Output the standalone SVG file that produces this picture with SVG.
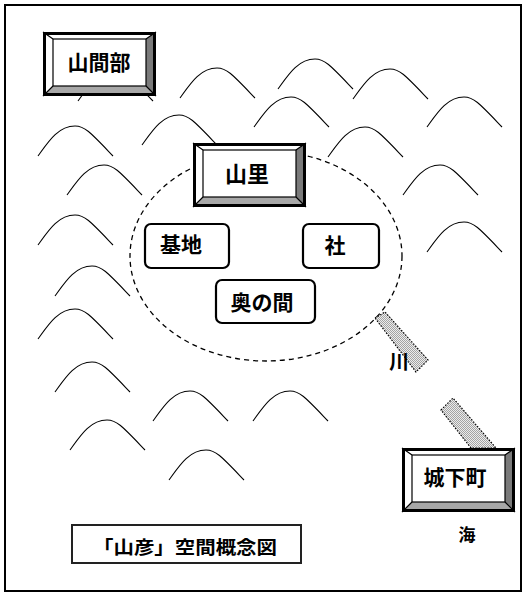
<svg xmlns="http://www.w3.org/2000/svg" xmlns:xlink="http://www.w3.org/1999/xlink" width="526" height="597" viewBox="0 0 526 597">
  <style>
    .jp { font-family: "Noto Sans CJK JP", "Noto Sans CJK SC", sans-serif; font-weight: bold; fill: #000; text-anchor: middle; dominant-baseline: central; }
    .mtn { fill: none; stroke: #000; stroke-width: 1.1; }
    .soft { fill: #fff; stroke: #000; stroke-width: 2.2; }
    .river { fill: url(#stipple); stroke: #000; stroke-width: 1.2; stroke-dasharray: 1.5 1.5; }
  </style>
  <defs>
    <!-- one mountain: left foot at origin -->
    <path id="mountain" d="M0,0 C10,-14 20,-30 37,-30 C47,-30 53,-23 75,0"/>
    <!-- bevelled frame for the place boxes -->
    <g id="bevel">
      <rect x="0" y="0" width="113" height="64" fill="#fff"/>
      <polygon points="113,0 113,64 103,54 103,7" fill="#7a7a7a"/>
      <polygon points="0,64 113,64 103,54 10,54" fill="#a8a8a8"/>
      <rect x="10" y="7" width="93" height="47" fill="#fff" stroke="#000" stroke-width="1.2"/>
      <path d="M0,0 L10,7 M113,0 L103,7 M0,64 L10,54 M113,64 L103,54" stroke="#000" stroke-width="1.2"/>
      <rect x="1.5" y="1.5" width="110" height="61" fill="none" stroke="#000" stroke-width="3"/>
    </g>
    <pattern id="stipple" width="2" height="2" patternUnits="userSpaceOnUse">
      <rect width="2" height="2" fill="#ececec"/>
      <rect width="1" height="1" fill="#a4a4a4"/>
      <rect x="1" y="1" width="1" height="1" fill="#a4a4a4"/>
    </pattern>
  </defs>

  <rect width="526" height="597" fill="#fff"/>
  <rect x="5" y="5" width="516" height="586" fill="none" stroke="#000" stroke-width="2"/>

  <!-- mountains -->
  <g id="mountains" class="mtn">
    <use xlink:href="#mountain" x="78" y="101"/>
    <use xlink:href="#mountain" x="180" y="98"/>
    <use xlink:href="#mountain" x="278" y="89"/>
    <use xlink:href="#mountain" x="353" y="99"/>
    <use xlink:href="#mountain" x="254" y="127"/>
    <use xlink:href="#mountain" x="427" y="127"/>
    <use xlink:href="#mountain" x="328" y="157"/>
    <use xlink:href="#mountain" x="403" y="195"/>
    <use xlink:href="#mountain" x="427" y="252"/>
    <use xlink:href="#mountain" x="38" y="156"/>
    <use xlink:href="#mountain" x="142" y="145"/>
    <use xlink:href="#mountain" x="67" y="195"/>
    <use xlink:href="#mountain" x="38" y="245"/>
    <use xlink:href="#mountain" x="55" y="296"/>
    <use xlink:href="#mountain" x="38" y="339"/>
    <use xlink:href="#mountain" x="55" y="392"/>
    <use xlink:href="#mountain" x="153" y="421"/>
    <use xlink:href="#mountain" x="253" y="421"/>
    <use xlink:href="#mountain" x="70" y="450"/>
    <use xlink:href="#mountain" x="169" y="480"/>
  </g>

  <!-- village boundary -->
  <ellipse id="boundary" cx="266" cy="256" rx="136" ry="105" fill="none" stroke="#000" stroke-width="1.3" stroke-dasharray="5 4"/>

  <!-- river -->
  <g id="river">
    <polygon class="river" points="375,318 385,312 428,360 416,372"/>
    <polygon class="river" points="441,410 453,398 496,448 471,448"/>
    <text class="jp" x="399" y="360" font-size="20">川</text>
  </g>

  <g id="node-sankanbu" transform="translate(43,32)">
    <use xlink:href="#bevel"/>
    <text class="jp" x="56" y="29" font-size="21">山間部</text>
  </g>

  <g id="node-yamazato" transform="translate(193,143)">
    <use xlink:href="#bevel"/>
    <text class="jp" x="54" y="29" font-size="22">山里</text>
  </g>

  <g id="node-bochi">
    <rect class="soft" x="145" y="224" width="84" height="44" rx="6"/>
    <text class="jp" x="181" y="243" font-size="21">基地</text>
  </g>

  <g id="node-yashiro">
    <rect class="soft" x="303" y="224" width="76" height="44" rx="6"/>
    <text class="jp" x="335" y="244" font-size="21">社</text>
  </g>

  <g id="node-okunoma">
    <rect class="soft" x="216" y="280" width="99" height="43" rx="6"/>
    <text class="jp" x="262" y="301" font-size="21">奥の間</text>
  </g>

  <g id="node-jokamachi" transform="translate(402,448)">
    <use xlink:href="#bevel"/>
    <text class="jp" x="53" y="28" font-size="21">城下町</text>
  </g>

  <g id="sea">
    <text class="jp" x="467" y="533" font-size="17">海</text>
  </g>

  <g id="caption">
    <rect x="72" y="525" width="229" height="38" fill="#fff" stroke="#222" stroke-width="2"/>
    <text class="jp" x="185" y="546" font-size="18" textLength="184" lengthAdjust="spacingAndGlyphs">「山彦」空間概念図</text>
  </g>
</svg>
